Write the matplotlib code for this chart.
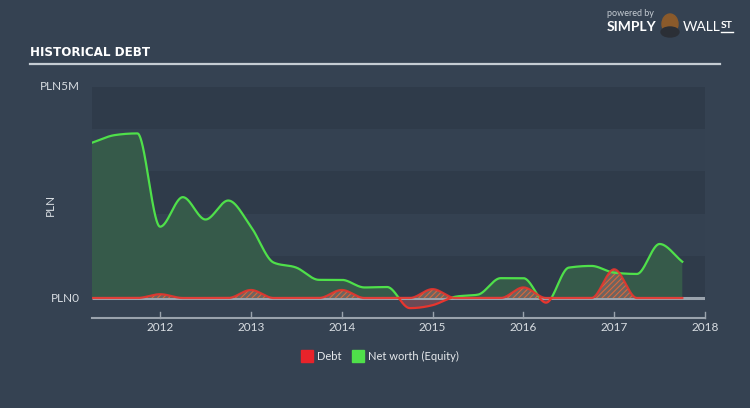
import numpy as np
import matplotlib
matplotlib.use("Agg")
import matplotlib.pyplot as plt
from matplotlib.patches import Rectangle, Ellipse
from matplotlib.lines import Line2D

# ---------------- data (millions PLN) ----------------
quarters = [2011.25, 2011.5, 2011.75, 2012.0, 2012.25, 2012.5, 2012.75,
            2013.0, 2013.25, 2013.5, 2013.75, 2014.0, 2014.25, 2014.5,
            2014.75, 2015.0, 2015.25, 2015.5, 2015.75, 2016.0, 2016.25,
            2016.5, 2016.75, 2017.0, 2017.25, 2017.5, 2017.75]
equity = [3.68, 3.86, 3.90, 1.69, 2.39, 1.86, 2.31,
          1.69, 0.84, 0.72, 0.43, 0.43, 0.25, 0.26,
          -0.24, -0.17, 0.03, 0.08, 0.47, 0.47, -0.11,
          0.72, 0.76, 0.60, 0.57, 1.28, 0.86]
debt = [0, 0, 0, 0.09, 0, 0, 0,
        0.19, 0, 0, 0, 0.19, 0, 0,
        0, 0.21, 0, 0, 0, 0.25, 0,
        0, 0, 0.68, 0, 0, 0]
year_ticks = [2012, 2013, 2014, 2015, 2016, 2017, 2018]
y_tick_vals = [0, 5]
y_tick_labels = ["PLN0", "PLN5M"]
legend_labels = ["Debt", "Net worth (Equity)"]


def monotone(x, y, xs):
    x = np.asarray(x, float); y = np.asarray(y, float)
    h = np.diff(x); d = np.diff(y) / h
    n = len(x)
    m = np.zeros(n)
    for i in range(1, n - 1):
        if d[i - 1] * d[i] <= 0:
            m[i] = 0
        else:
            p = (d[i - 1] * h[i] + d[i] * h[i - 1]) / (h[i - 1] + h[i])
            m[i] = np.sign(d[i]) * min(abs(p), 2 * min(abs(d[i - 1]), abs(d[i])))
    m[0] = d[0]; m[-1] = d[-1]
    idx = np.clip(np.searchsorted(x, xs) - 1, 0, n - 2)
    t = (xs - x[idx]) / h[idx]
    h00 = 2 * t**3 - 3 * t**2 + 1
    h10 = t**3 - 2 * t**2 + t
    h01 = -2 * t**3 + 3 * t**2
    h11 = t**3 - t**2
    return h00 * y[idx] + h10 * h[idx] * m[idx] + h01 * y[idx + 1] + h11 * h[idx] * m[idx + 1]


BG = "#354252"
BAND_D = "#2f3b4a"
BAND_L = "#344151"
GREEN = "#4fe04a"
RED = "#e8352e"
FONT = "Lato"

fig = plt.figure(figsize=(7.5, 4.08), dpi=100)
fig.patch.set_facecolor(BG)
W, H = 750, 408

x0, x1 = 92, 705
ytop, ybot = 87, 318
ax = fig.add_axes([x0 / W, (H - ybot) / H, (x1 - x0) / W, (ybot - ytop) / H])
ax.set_facecolor(BG)
xmin, xmax = 2011.25, 2018.0
ymin = -20 / 42.2
ax.set_xlim(xmin, xmax)
ax.set_ylim(ymin, 5.0)
for s in ax.spines.values():
    s.set_visible(False)
ax.set_xticks([]); ax.set_yticks([])

# bands
for i in range(5):
    ax.axhspan(i, i + 1, color=BAND_D if i % 2 == 0 else BAND_L, lw=0, zorder=0)

xs = np.linspace(quarters[0], quarters[-1], 3000)
eq = monotone(quarters, equity, xs)
db = monotone(quarters, debt, xs)

# equity fills
ax.fill_between(xs, 0, eq, where=eq >= 0, color="#365a4a", lw=0, zorder=1, interpolate=True)
ax.fill_between(xs, 0, eq, where=eq <= 0, color="#6a4a56", lw=0, zorder=1, interpolate=True)

# baseline
ax.plot([xmin, xmax], [0, 0], color="#9aa3ad", lw=2.2, zorder=2, solid_capstyle="butt")

# debt hatched fill
plt.rcParams["hatch.linewidth"] = 0.8
ax.fill_between(xs, 0, db, where=db > 0.002, facecolor="#6e6460", edgecolor="#d8683c",
                hatch="//////", lw=0, zorder=3)

# equity line split by sign
eq_pos = np.where(eq >= -0.003, eq, np.nan)
eq_neg = np.where(eq <= 0.003, eq, np.nan)
ax.plot(xs, eq_pos, color=GREEN, lw=1.6, zorder=4)
ax.plot(xs, eq_neg, color=RED, lw=1.6, zorder=4)

# debt line
ax.plot(xs, db, color=RED, lw=1.6, zorder=5, alpha=0.9)

# x axis line and ticks
ax.plot([xmin, xmax], [ymin, ymin], color="#9aa3ad", lw=1.5, clip_on=False, zorder=6)
for yr in year_ticks:
    ax.plot([yr, yr], [ymin, ymin + 6 / 42.2], color="#9aa3ad", lw=1.0, clip_on=False, zorder=6)
    ax.text(yr, ymin - 4 / 42.2, str(yr), ha="center", va="top", fontsize=8.5,
            color="#d8dde2", family=FONT)

# y labels
for v, lab in zip(y_tick_vals, y_tick_labels):
    fig.text(80 / W, 1 - (298 - v * 42.2) / H, lab, ha="right", va="center",
             fontsize=8.5, color="#d8dde2", family=FONT)
fig.text(50 / W, 1 - 205 / H, "PLN", rotation=90, ha="center", va="center",
         fontsize=8.5, color="#d8dde2", family=FONT)

# title
fig.text(30 / W, 1 - 53 / H, "HISTORICAL DEBT", ha="left", va="center", fontsize=9.5,
         color="white", family="DejaVu Sans", stretch="condensed", weight="bold")
fig.add_artist(Line2D([30 / W, 720 / W], [1 - 64 / H, 1 - 64 / H], color="#c5ccd3", lw=1.6))

# logo text
fig.text(607 / W, 1 - 14 / H, "powered by", ha="left", va="center", fontsize=6.5,
         color="#c5ccd3", family=FONT)
fig.text(607 / W, 1 - 27 / H, "SIMPLY", ha="left", va="center", fontsize=10,
         color="white", family=FONT, weight="bold")
fig.add_artist(Ellipse((670 / W, 1 - 24 / H), 16 / W, 20 / H, color="#8a5a2b", transform=fig.transFigure))
fig.add_artist(Ellipse((670 / W, 1 - 32 / H), 18 / W, 10 / H, color="#2b2f36", transform=fig.transFigure))
fig.text(683 / W, 1 - 27 / H, "WALL", ha="left", va="center", fontsize=10,
         color="white", family=FONT)
fig.text(721 / W, 1 - 26 / H, "ST", ha="left", va="center", fontsize=7.5,
         color="white", family=FONT, weight="bold")
fig.add_artist(Line2D([721 / W, 733 / W], [1 - 32 / H, 1 - 32 / H], color="white", lw=1))

# legend
ly = 1 - 356 / H
fig.add_artist(Rectangle((301 / W, ly - 6 / H), 12 / W, 12 / H, color="#e8232a", transform=fig.transFigure))
fig.text(317 / W, ly, legend_labels[0], ha="left", va="center", fontsize=8, color="#e6e9ec", family=FONT)
fig.add_artist(Rectangle((352 / W, ly - 6 / H), 12 / W, 12 / H, color="#4fe04a", transform=fig.transFigure))
fig.text(368 / W, ly, legend_labels[1], ha="left", va="center", fontsize=8, color="#e6e9ec", family=FONT)

fig.savefig("out.png", dpi=100, facecolor=BG)
